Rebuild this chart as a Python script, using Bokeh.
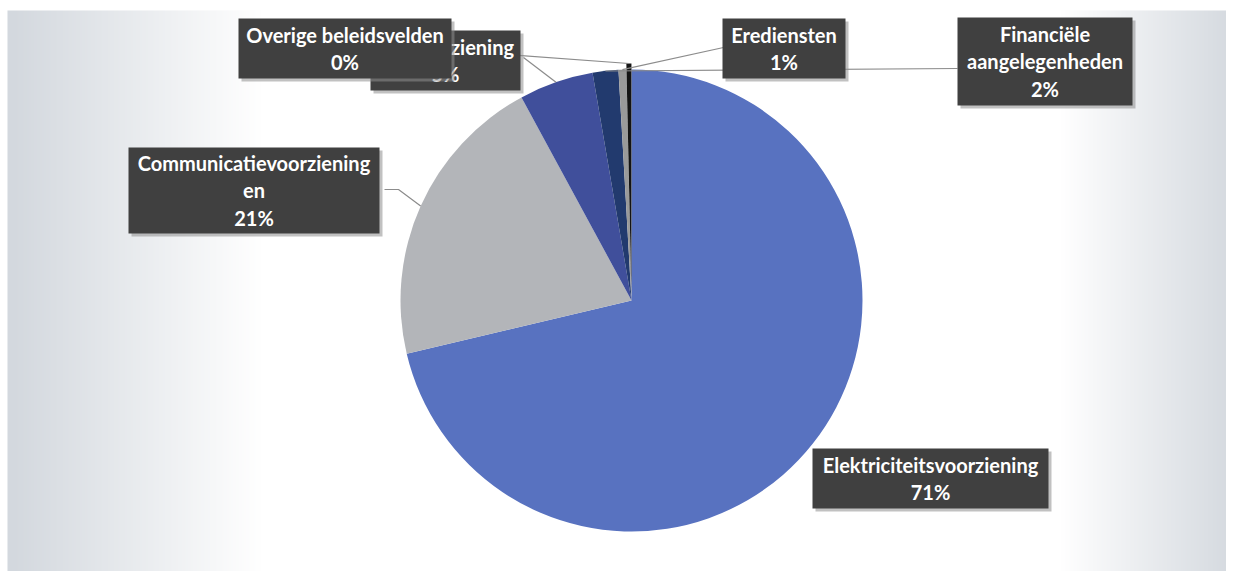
import numpy as np
from bokeh.plotting import figure
from bokeh.models import Range1d
from bokeh.core.properties import value
from bokeh.embed import file_html
from bokeh.resources import INLINE

# ---- data ----
categories = ["Elektriciteitsvoorziening", "Communicatievoorzieningen", "Gasvoorziening",
              "Financiële aangelegenheden", "Erediensten", "Overige beleidsvelden"]
label_names = ["Elektriciteitsvoorziening", "Communicatievoorziening\nen", "Gasvoorziening",
               "Financiële\naangelegenheden", "Erediensten", "Overige beleidsvelden"]
shares = [71.3, 20.8, 5.2, 1.8, 0.55, 0.35]

# ---- style / layout ----
colors = ["#5872C0", "#B3B5B9", "#404F9B", "#223A6E", "#9A9A9A", "#141414"]
W, H = 1226, 571
PAGE_H = 587
def sy(y):  # screen y -> data y (y up)
    return PAGE_H - y

CX, CY, R = 631, sy(300), 231
explode = [0, 0, 0, 0, 0, 6]

# label boxes (screen coords: left, top, right, bottom)
boxes = [(812, 448, 1048, 508), (128, 147, 379, 233), (370, 30, 520, 90),
         (957, 17, 1132, 105), (722, 18, 845, 78), (238, 18, 451, 78)]
# leader line start points (screen) and optional elbow
leader_start = [None, [(384, 189), (398, 189)], [(523, 57)], [(957, 68)], [(723, 47)], [(452, 50)]]

p = figure(width=W, height=H, x_range=Range1d(0, W), y_range=Range1d(PAGE_H - H, PAGE_H),
           output_backend="svg", toolbar_location=None, min_border=0)
p.axis.visible = False
p.grid.visible = False
p.outline_line_color = None
p.background_fill_color = "white"
p.border_fill_color = "white"

# background: soft grey fade at left/right edges
x0, y0 = 7, 10
bw = W - x0
xs_px = np.arange(bw) + x0
t = np.clip(np.maximum((260 - xs_px) / 250.0, (xs_px - 1060) / 180.0), 0, 1)
gray = np.array([211, 216, 222])
rgb = (255 * (1 - t)[:, None] + gray[None, :] * t[:, None]).astype(np.uint32)
row = (255 << 24) | (rgb[:, 2] << 16) | (rgb[:, 1] << 8) | rgb[:, 0]
img = np.tile(row[None, :], (2, 1)).astype(np.uint32)
p.image_rgba(image=[img], x=x0, y=PAGE_H - H, dw=bw, dh=sy(y0) - (PAGE_H - H))

# pie
total = sum(shares)
fr = np.array(shares) / total
cum = np.concatenate([[0], np.cumsum(fr)])
starts = np.pi / 2 - cum[:-1] * 2 * np.pi
ends = np.pi / 2 - cum[1:] * 2 * np.pi
mids = (starts + ends) / 2
cxs = [CX + e * np.cos(m) for e, m in zip(explode, mids)]
cys = [CY + e * np.sin(m) for e, m in zip(explode, mids)]
p.wedge(x=cxs, y=cys, radius=R, start_angle=list(starts), end_angle=list(ends),
        direction="clock", fill_color=colors, line_color=None)

# leader lines
for i, pts in enumerate(leader_start):
    if pts is None:
        continue
    ex = cxs[i] + R * np.cos(mids[i])
    ey = cys[i] + R * np.sin(mids[i])
    lx = [q[0] for q in pts] + [ex]
    ly = [sy(q[1]) for q in pts] + [ey]
    p.line(lx, ly, line_color="#8C8C8C", line_width=1.2)

# labels
pct = [f"{int(f * 100 + 0.5)}%" for f in fr]
for i in range(len(categories)):
    l, tp, r, b = boxes[i]
    p.quad(left=l + 3, right=r + 3, top=sy(tp + 3), bottom=sy(b + 3),
           fill_color="#8E8E8E", fill_alpha=0.55, line_color=None)
    p.quad(left=l, right=r, top=sy(tp), bottom=sy(b),
           fill_color="#404040", line_color=None)
    p.text(x=[(l + r) / 2], y=[sy((tp + b) / 2)], text=[label_names[i] + "\n" + pct[i]],
           text_align="center", text_baseline="middle", text_color="white",
           text_font=value("Lato"), text_font_style="bold", text_font_size="20px",
           text_line_height=1.16)

open("out.html", "w").write(file_html(p, INLINE))
